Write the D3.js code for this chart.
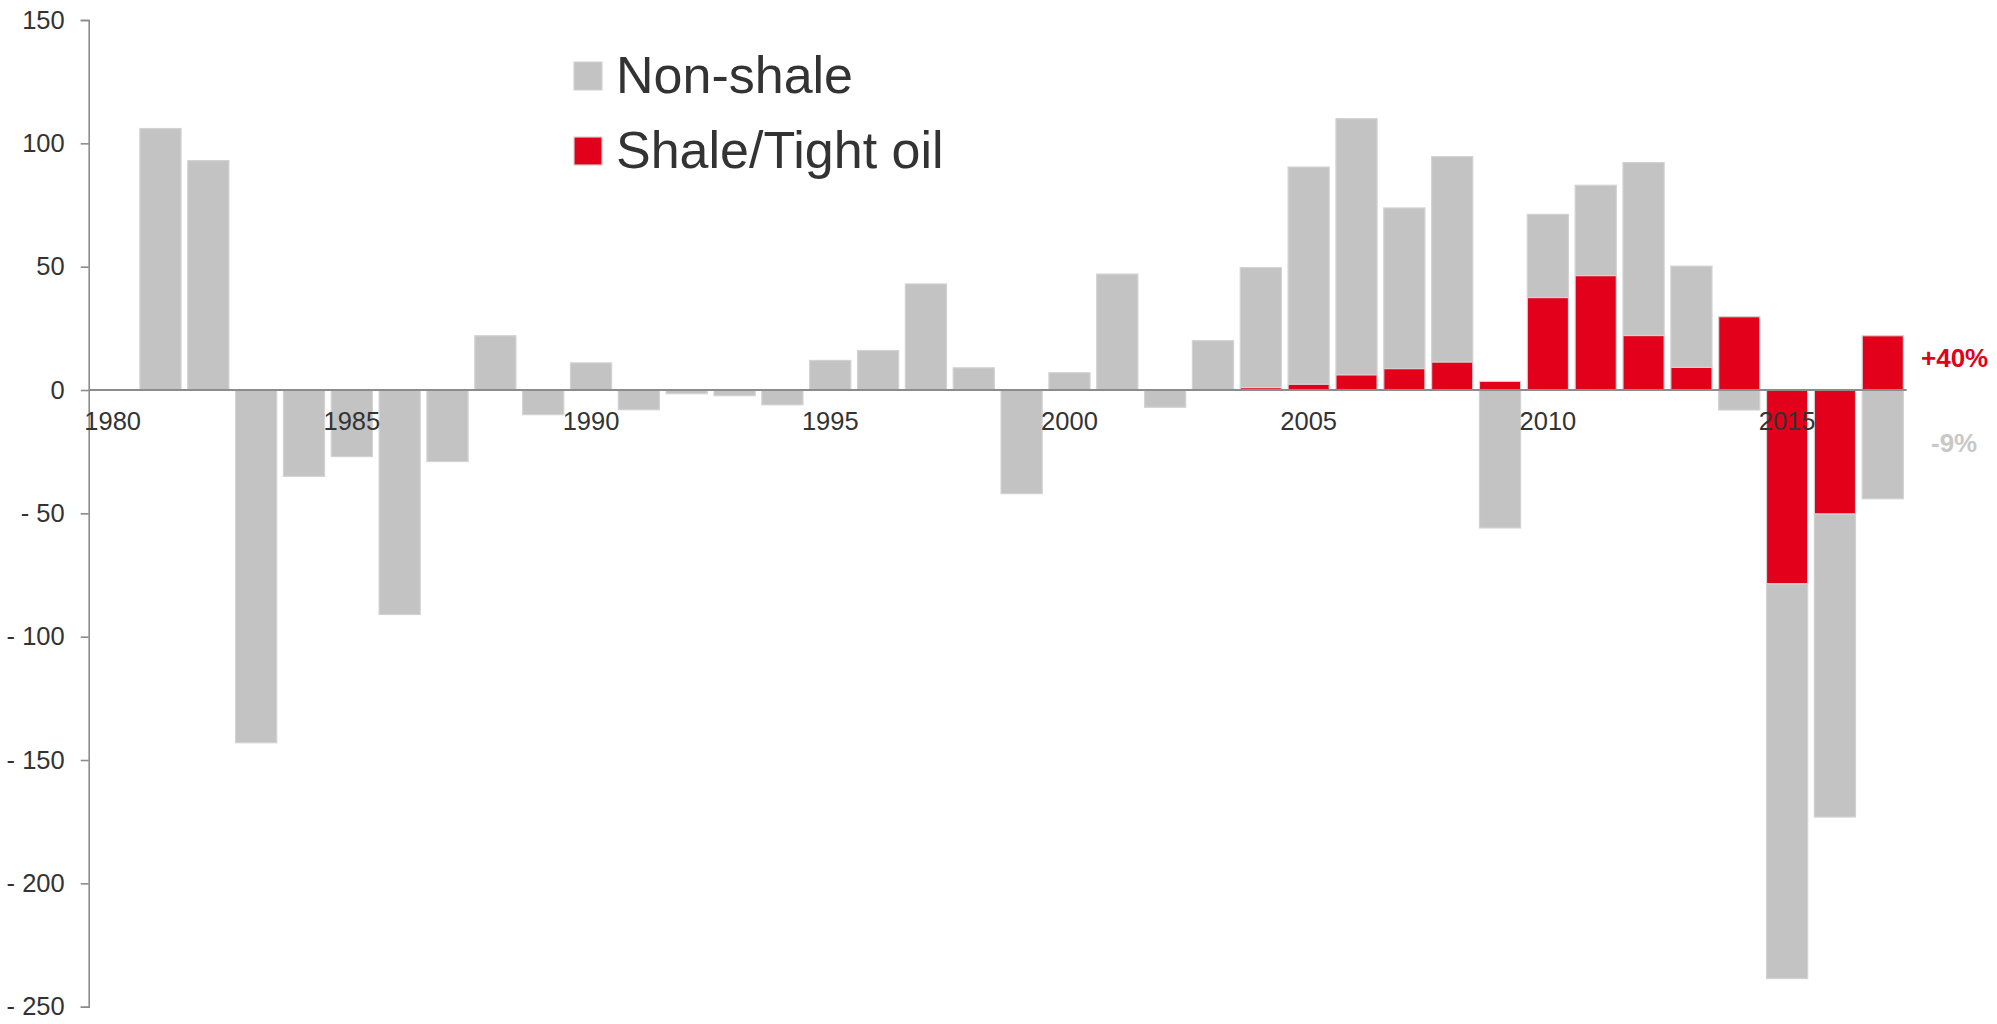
<!DOCTYPE html>
<html>
<head>
<meta charset="utf-8">
<script src="https://cdn.jsdelivr.net/npm/d3@7"></script>
<style>
  html, body { margin: 0; padding: 0; background: #ffffff; }
  svg { display: block; font-family: "Liberation Sans", Arial, sans-serif; }
</style>
</head>
<body>
<svg id="chart" width="1997" height="1024"></svg>
<script>
// ---- data ----
const years = [1980,1981,1982,1983,1984,1985,1986,1987,1988,1989,
               1990,1991,1992,1993,1994,1995,1996,1997,1998,1999,
               2000,2001,2002,2003,2004,2005,2006,2007,2008,2009,
               2010,2011,2012,2013,2014,2015,2016,2017];
const nonShale = [0,106,93,-143,-35,-27,-91,-29,22,-10,
                  11,-8,-1.5,-2.3,-6,12,16,43,9,-42,
                  7,47,-7,20,48.6,88,103.8,65.1,83.2,-55.9,
                  33.7,36.6,70.1,41,-8.1,-160,-122.8,-44.1];
const shale = [0,0,0,0,0,0,0,0,0,0,
               0,0,0,0,0,0,0,0,0,0,
               0,0,0,0,1,2.4,6.2,8.7,11.4,3.5,
               37.5,46.4,22.1,9.2,29.7,-78.6,-50.3,22];
const yTicks = [150,100,50,0,-50,-100,-150,-200,-250];
const xTickLabels = [1980,1985,1990,1995,2000,2005,2010,2015];
const seriesNames = ["Non-shale","Shale/Tight oil"];
const endLabels = ["+40%","-9%"];

// ---- build ----
const rows = years.map((y,i)=>({year:y, shale:shale[i], nonShale:nonShale[i]}));
const keys = ["shale","nonShale"];
const colors = {shale:"#e2001a", nonShale:"#c3c3c3"};

const svg = d3.select("#chart");
const x = d3.scaleBand().domain(years).range([88.7, 1906.7]).paddingInner(0.14).paddingOuter(0.07);
const y = d3.scaleLinear().domain([-250,150]).range([1006.7, 20]);

const stacked = d3.stack().keys(keys).offset(d3.stackOffsetDiverging)(rows);

const g = svg.append("g");
stacked.forEach(layer => {
  g.append("g").selectAll("rect")
    .data(layer.filter(d => Math.abs(d[1]-d[0]) > 0.001))
    .join("rect")
    .attr("x", d => x(d.data.year))
    .attr("width", x.bandwidth())
    .attr("y", d => y(Math.max(d[0],d[1])))
    .attr("height", d => Math.abs(y(d[0]) - y(d[1])))
    .attr("fill", colors[layer.key])
    .attr("stroke", "#d2d2d2")
    .attr("stroke-width", 1.2);
});

// y axis
const yAxis = d3.axisLeft(y).tickValues(yTicks).tickSize(8).tickPadding(16)
  .tickFormat(d => d < 0 ? "- " + Math.abs(d) : String(d));
const ya = svg.append("g").attr("transform","translate(88.7,0)").call(yAxis);
ya.select(".domain").attr("stroke","#8c8c8c").attr("stroke-width",1.6);
ya.selectAll(".tick line").attr("stroke","#8c8c8c").attr("stroke-width",1.6);
ya.selectAll(".tick text").attr("fill","#333333").attr("font-size",25.5)
  .attr("font-family","'Liberation Sans', Arial, sans-serif");

// zero line
svg.append("line")
  .attr("x1", 88.7).attr("x2", 1906.7)
  .attr("y1", y(0)).attr("y2", y(0))
  .attr("stroke","#8c8c8c").attr("stroke-width",2.2);

// x labels
const xAxis = d3.axisBottom(x).tickValues(xTickLabels).tickSize(0).tickPadding(22);
const xa = svg.append("g").attr("transform",`translate(0,${y(0)})`).call(xAxis);
xa.select(".domain").remove();
xa.selectAll(".tick text").attr("fill","#333333").attr("font-size",25.5)
  .attr("font-family","'Liberation Sans', Arial, sans-serif");

// legend
const legend = svg.append("g");
const legItems = [{name:seriesNames[0], color:colors.nonShale, y:62},
                  {name:seriesNames[1], color:colors.shale, y:137}];
legItems.forEach(it => {
  legend.append("rect").attr("x",574).attr("y",it.y).attr("width",28).attr("height",28)
    .attr("fill",it.color).attr("stroke","#d2d2d2").attr("stroke-width",1.2);
  legend.append("text").attr("x",616).attr("y",it.y+31).text(it.name)
    .attr("font-size",52).attr("fill","#333333");
});

// end labels
svg.append("text").attr("x",1921).attr("y",y(13)).attr("dy","0.35em")
  .attr("font-size",26).attr("font-weight","bold").attr("fill","#e2001a").text(endLabels[0]);
svg.append("text").attr("x",1931).attr("y",y(-21.5)).attr("dy","0.35em")
  .attr("font-size",26).attr("font-weight","bold").attr("fill","#c8c8c8").text(endLabels[1]);
</script>
</body>
</html>
